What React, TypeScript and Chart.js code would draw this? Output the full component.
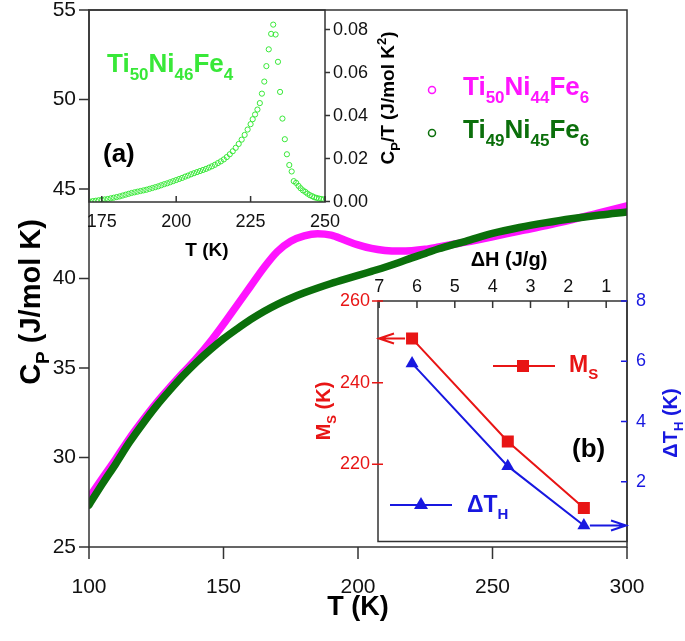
import React, { useEffect, useRef } from 'react';
import { Chart, registerables } from 'chart.js';

Chart.register(...registerables);

const FONT = "'Liberation Sans', Arial, Helvetica, sans-serif";

// ---------- Main panel: C_P vs T ----------
const temperatureK = [100, 105, 110, 115, 120, 125, 130, 135, 140, 145, 150, 155, 160, 165, 170, 175, 180, 185, 190, 195, 200, 205, 210, 215, 220, 225, 230, 235, 240, 250, 260, 270, 280, 290, 300];
const cpTi49Ni45Fe6 = [27.35, 28.53, 29.66, 30.84, 31.89, 32.87, 33.75, 34.58, 35.33, 36.01, 36.63, 37.18, 37.7, 38.16, 38.56, 38.9, 39.2, 39.47, 39.72, 39.95, 40.17, 40.4, 40.63, 40.88, 41.15, 41.4, 41.66, 41.88, 42.08, 42.52, 42.85, 43.12, 43.35, 43.55, 43.72];
const cpTi50Ni44Fe6 = [27.75, 28.85, 29.93, 31.06, 32.08, 33.04, 33.91, 34.74, 35.55, 36.45, 37.45, 38.5, 39.55, 40.6, 41.5, 42.08, 42.38, 42.5, 42.42, 42.15, 41.88, 41.68, 41.57, 41.53, 41.55, 41.63, 41.76, 41.9, 42.03, 42.33, 42.65, 42.95, 43.3, 43.68, 44.05];
const mainTTicks = [100, 150, 200, 250, 300];
const mainCpTicks = [25, 30, 35, 40, 45, 50, 55];

// ---------- Inset (a): C_P/T vs T for Ti50Ni46Fe4 ----------
const insetT = [171, 172, 173, 174, 175, 176, 177, 178, 179, 180, 181, 182, 183, 184, 185, 186, 187, 188, 189, 190, 191, 192, 193, 194, 195, 196, 197, 198, 199, 200, 201, 202, 203, 204, 205, 206, 207, 208, 209, 210, 211, 212, 213, 214, 215, 216, 217, 218, 219, 220, 221, 222, 223, 224, 225, 225.7, 226.5, 227.3, 228.1, 228.8, 229.6, 230.3, 231.1, 231.9, 232.6, 233.4, 234.2, 234.9, 235.7, 236.5, 237.2, 238.0, 238.8, 239.5, 240.3, 241.1, 241.8, 242.6, 243.4, 244.1, 244.9, 245.7, 246.4, 247.2, 248.0, 248.7, 249.5];
const insetCpOverT = [0.0000, 0.0002, 0.0004, 0.0006, 0.0008, 0.0010, 0.0012, 0.0015, 0.0018, 0.0021, 0.0024, 0.0028, 0.0032, 0.0036, 0.0040, 0.0043, 0.0046, 0.0049, 0.0052, 0.0055, 0.0059, 0.0063, 0.0067, 0.0071, 0.0076, 0.0081, 0.0085, 0.0090, 0.0095, 0.0100, 0.0105, 0.0110, 0.0116, 0.0121, 0.0127, 0.0132, 0.0137, 0.0142, 0.0147, 0.0152, 0.0158, 0.0164, 0.0171, 0.0179, 0.0187, 0.0196, 0.0207, 0.0220, 0.0234, 0.0250, 0.0268, 0.0288, 0.0310, 0.0335, 0.0360, 0.0383, 0.0405, 0.0428, 0.0458, 0.0502, 0.0558, 0.0630, 0.0708, 0.0780, 0.0823, 0.0777, 0.0650, 0.0510, 0.0386, 0.0290, 0.0220, 0.0170, 0.0140, 0.0095, 0.0087, 0.0073, 0.0062, 0.0052, 0.0045, 0.0037, 0.0030, 0.0025, 0.0020, 0.0017, 0.0014, 0.0012, 0.0010];
const insetTTicks = [175, 200, 225, 250];
const insetCpTTicks = [0, 0.02, 0.04, 0.06, 0.08];

// ---------- Inset (b): Ms and ΔT_H vs ΔH ----------
const deltaH = [6.13, 3.6, 1.59];
const msK = [250.8, 225.6, 209.3];
const deltaTH = [5.93, 2.52, 0.55];
const deltaHTicks = [7, 6, 5, 4, 3, 2, 1];
const msTicks = [220, 240, 260];
const deltaTHTicks = [2, 4, 6, 8];

const MAGENTA = '#ff14ff';
const DARK_GREEN = '#0b6f0b';
const LIGHT_GREEN = '#38e838';
const RED = '#e81515';
const BLUE = '#1818e0';
const AXIS = '#333';

type Seg = [string, string?];

function drawRich(ctx: CanvasRenderingContext2D, segs: Seg[], x: number, y: number, size: number, color: string, align: 'left' | 'center' | 'right', weight = 'bold') {
  const sub = Math.round(size * 0.66);
  const font = (k?: string) => `${weight} ${k ? sub : size}px ${FONT}`;
  ctx.save();
  ctx.fillStyle = color;
  ctx.textBaseline = 'alphabetic';
  ctx.textAlign = 'left';
  let w = 0;
  for (const [t, k] of segs) { ctx.font = font(k); w += ctx.measureText(t).width; }
  let cx = align === 'center' ? x - w / 2 : align === 'right' ? x - w : x;
  for (const [t, k] of segs) {
    ctx.font = font(k);
    const dy = k === 'sub' ? size * 0.3 : k === 'sup' ? -size * 0.42 : 0;
    ctx.fillText(t, cx, y + dy);
    cx += ctx.measureText(t).width;
  }
  ctx.restore();
}

function drawRotated(ctx: CanvasRenderingContext2D, segs: Seg[], cx: number, cy: number, size: number, color: string) {
  ctx.save();
  ctx.translate(cx, cy);
  ctx.rotate(-Math.PI / 2);
  drawRich(ctx, segs, 0, size * 0.36, size, color, 'center');
  ctx.restore();
}

function tickMarks(ctx: CanvasRenderingContext2D, scale: any, side: string, inward: number, outward: number, color: string) {
  const ca = scale.chart.chartArea;
  ctx.save();
  ctx.strokeStyle = color;
  ctx.lineWidth = 1.5;
  ctx.beginPath();
  for (const t of scale.ticks) {
    const p = scale.getPixelForValue(t.value);
    if (side === 'left') { ctx.moveTo(ca.left - outward, p); ctx.lineTo(ca.left + inward, p); }
    if (side === 'right') { ctx.moveTo(ca.right + outward, p); ctx.lineTo(ca.right - inward, p); }
    if (side === 'bottom') { ctx.moveTo(p, ca.bottom + outward); ctx.lineTo(p, ca.bottom - inward); }
    if (side === 'top') { ctx.moveTo(p, ca.top - outward); ctx.lineTo(p, ca.top + inward); }
  }
  ctx.stroke();
  ctx.restore();
}

function frame(ctx: CanvasRenderingContext2D, ca: any) {
  ctx.save();
  ctx.strokeStyle = AXIS;
  ctx.lineWidth = 1.5;
  ctx.strokeRect(ca.left, ca.top, ca.right - ca.left, ca.bottom - ca.top);
  ctx.restore();
}

const zeroPad = (s: any) => { s.paddingLeft = 0; s.paddingRight = 0; s.paddingTop = 0; s.paddingBottom = 0; };
const fixH = (h: number) => (s: any) => { s.height = h; zeroPad(s); };
const fixW = (w: number) => (s: any) => { s.width = w; zeroPad(s); };
const setTicks = (arr: number[]) => (s: any) => { s.ticks = arr.map((v) => ({ value: v })); };

const baseOptions = {
  animation: false,
  responsive: false,
  devicePixelRatio: 1,
  events: [] as any[],
  plugins: { legend: { display: false }, tooltip: { enabled: false } },
};

const noGrid = { display: false, drawTicks: false };
const noBorder = { display: false };

function arrow(ctx: CanvasRenderingContext2D, x1: number, y: number, x2: number, color: string) {
  const dir = Math.sign(x2 - x1);
  ctx.save();
  ctx.strokeStyle = color;
  ctx.lineWidth = 2;
  ctx.beginPath();
  ctx.moveTo(x1, y);
  ctx.lineTo(x2, y);
  ctx.moveTo(x2 - dir * 15, y - 5);
  ctx.lineTo(x2, y);
  ctx.lineTo(x2 - dir * 15, y + 5);
  ctx.stroke();
  ctx.restore();
}

export default function App() {
  const mainRef = useRef<HTMLCanvasElement>(null);
  const aRef = useRef<HTMLCanvasElement>(null);
  const bRef = useRef<HTMLCanvasElement>(null);

  useEffect(() => {
    const charts: Chart[] = [];

    // ---------- main ----------
    const mainDecor = {
      id: 'mainDecor',
      afterDraw(chart: any) {
        const ctx = chart.ctx;
        const ca = chart.chartArea;
        frame(ctx, ca);
        tickMarks(ctx, chart.scales.x, 'bottom', 0, 12, AXIS);
        tickMarks(ctx, chart.scales.y, 'left', 0, 10, AXIS);
        drawRich(ctx, [['T (K)']], (ca.left + ca.right) / 2, 615, 27, '#000', 'center');
        drawRotated(ctx, [['C'], ['P', 'sub'], [' (J/mol K)']], 30, 302, 29, '#000');
        // legend
        const items: [string, Seg[], number][] = [
          [MAGENTA, [['Ti'], ['50', 'sub'], ['Ni'], ['44', 'sub'], ['Fe'], ['6', 'sub']], 95],
          [DARK_GREEN, [['Ti'], ['49', 'sub'], ['Ni'], ['45', 'sub'], ['Fe'], ['6', 'sub']], 138],
        ];
        for (const [c, segs, by] of items) {
          ctx.save();
          ctx.strokeStyle = c;
          ctx.lineWidth = 1.5;
          ctx.beginPath();
          ctx.arc(432, by - 5, 3.5, 0, Math.PI * 2);
          ctx.stroke();
          ctx.restore();
          drawRich(ctx, segs, 463, by, 26, c, 'left');
        }
      },
    };

    charts.push(new Chart(mainRef.current as HTMLCanvasElement, {
      type: 'line',
      data: {
        datasets: [
          {
            label: 'Ti49Ni45Fe6',
            data: temperatureK.map((t, i) => ({ x: t, y: cpTi49Ni45Fe6[i] })),
            borderColor: DARK_GREEN, borderWidth: 7.5, pointRadius: 0,
            cubicInterpolationMode: 'monotone', borderCapStyle: 'round', borderJoinStyle: 'round',
          },
          {
            label: 'Ti50Ni44Fe6',
            data: temperatureK.map((t, i) => ({ x: t, y: cpTi50Ni44Fe6[i] })),
            borderColor: MAGENTA, borderWidth: 7.5, pointRadius: 0,
            cubicInterpolationMode: 'monotone', borderCapStyle: 'round', borderJoinStyle: 'round',
          },
        ],
      },
      options: {
        ...baseOptions,
        layout: { padding: { left: 0, top: 10, right: 58, bottom: 0 } },
        scales: {
          x: {
            type: 'linear', min: 100, max: 300,
            afterBuildTicks: setTicks(mainTTicks),
            grid: noGrid, border: noBorder,
            ticks: { autoSkip: false, maxRotation: 0, padding: 28, color: '#111', font: { size: 21, family: FONT }, callback: (v: any) => String(v) },
            afterFit: fixH(94),
          },
          y: {
            type: 'linear', min: 25, max: 55,
            afterBuildTicks: setTicks(mainCpTicks),
            grid: noGrid, border: noBorder,
            ticks: { autoSkip: false, padding: 13, color: '#111', font: { size: 21, family: FONT }, callback: (v: any) => String(v) },
            afterFit: fixW(89),
          },
        },
      } as any,
      plugins: [mainDecor],
    } as any));

    // ---------- inset (a) ----------
    const aDecor = {
      id: 'aDecor',
      afterDraw(chart: any) {
        const ctx = chart.ctx;
        const ca = chart.chartArea;
        frame(ctx, ca);
        tickMarks(ctx, chart.scales.x, 'bottom', 6, 0, AXIS);
        tickMarks(ctx, chart.scales.y, 'right', 0, 5, AXIS);
        drawRich(ctx, [['T (K)']], (ca.left + ca.right) / 2, 256, 19, '#000', 'center');
        drawRotated(ctx, [['C'], ['P', 'sub'], ['/T (J/mol K'], ['2', 'sup'], [')']], 327, 98, 19, '#000');
        drawRich(ctx, [['Ti'], ['50', 'sub'], ['Ni'], ['46', 'sub'], ['Fe'], ['4', 'sub']], 47, 72, 26, LIGHT_GREEN, 'left');
        drawRich(ctx, [['(a)']], 43, 162, 26, '#000', 'left');
      },
    };

    charts.push(new Chart(aRef.current as HTMLCanvasElement, {
      type: 'line',
      data: {
        datasets: [
          {
            label: 'Ti50Ni46Fe4',
            data: insetT.map((t, i) => ({ x: t, y: insetCpOverT[i] })),
            showLine: false,
            pointRadius: 2.6, pointBorderWidth: 1,
            pointBorderColor: LIGHT_GREEN, pointBackgroundColor: 'rgba(255,255,255,0)',
          },
        ],
      },
      options: {
        ...baseOptions,
        layout: { padding: { left: 29, top: 10, right: 0, bottom: 0 } },
        scales: {
          x: {
            type: 'linear', min: 170.7, max: 250,
            afterBuildTicks: setTicks(insetTTicks),
            grid: noGrid, border: noBorder,
            ticks: { autoSkip: false, maxRotation: 0, padding: 9, color: '#111', font: { size: 18, family: FONT }, callback: (v: any) => String(v) },
            afterFit: fixH(60),
          },
          y: {
            type: 'linear', position: 'right', min: -0.0002, max: 0.0891,
            afterBuildTicks: setTicks(insetCpTTicks),
            grid: noGrid, border: noBorder,
            ticks: { autoSkip: false, padding: 8, color: '#111', font: { size: 18, family: FONT }, callback: (v: any) => Number(v).toFixed(2) },
            afterFit: fixW(95),
          },
        },
      } as any,
      plugins: [aDecor],
    } as any));

    // ---------- inset (b) ----------
    const bDecor = {
      id: 'bDecor',
      afterDraw(chart: any) {
        const ctx = chart.ctx;
        const ca = chart.chartArea;
        const xs = chart.scales.x;
        const ym = chart.scales.yMs;
        const yt = chart.scales.yT;
        frame(ctx, ca);
        tickMarks(ctx, xs, 'top', 7, 0, AXIS);
        tickMarks(ctx, ym, 'left', 5, 6, RED);
        tickMarks(ctx, yt, 'right', 6, 0, BLUE);
        // arrows to the axes
        arrow(ctx, xs.getPixelForValue(deltaH[0]) - 7, ym.getPixelForValue(msK[0]), ca.left + 1, RED);
        arrow(ctx, xs.getPixelForValue(deltaH[2]) + 6, yt.getPixelForValue(deltaTH[2]), ca.right - 1, BLUE);
        // titles
        drawRich(ctx, [['ΔH (J/g)']], 204, 18, 20, '#000', 'center');
        drawRotated(ctx, [['M'], ['S', 'sub'], [' (K)']], 18, 163, 20, RED);
        drawRotated(ctx, [['ΔT'], ['H', 'sub'], [' (K)']], 365, 175, 20, BLUE);
        // legend
        ctx.save();
        ctx.lineWidth = 2;
        ctx.strokeStyle = RED;
        ctx.beginPath(); ctx.moveTo(188, 118); ctx.lineTo(250, 118); ctx.stroke();
        ctx.fillStyle = RED;
        ctx.fillRect(212, 112, 12, 12);
        ctx.strokeStyle = BLUE;
        ctx.beginPath(); ctx.moveTo(85, 257); ctx.lineTo(147, 257); ctx.stroke();
        ctx.fillStyle = BLUE;
        ctx.beginPath(); ctx.moveTo(116, 249); ctx.lineTo(123, 261); ctx.lineTo(109, 261); ctx.closePath(); ctx.fill();
        ctx.restore();
        drawRich(ctx, [['M'], ['S', 'sub']], 264, 124, 23, RED, 'left');
        drawRich(ctx, [['ΔT'], ['H', 'sub']], 162, 264, 23, BLUE, 'left');
        drawRich(ctx, [['(b)']], 267, 209, 26, '#000', 'left');
      },
    };

    charts.push(new Chart(bRef.current as HTMLCanvasElement, {
      type: 'line',
      data: {
        datasets: [
          {
            label: 'Ms',
            data: deltaH.map((h, i) => ({ x: h, y: msK[i] })),
            xAxisID: 'x', yAxisID: 'yMs',
            borderColor: RED, borderWidth: 2,
            pointStyle: 'rect', pointRadius: 8.5, pointBorderWidth: 0,
            pointBackgroundColor: RED, pointBorderColor: RED,
          },
          {
            label: 'dTH',
            data: deltaH.map((h, i) => ({ x: h, y: deltaTH[i] })),
            xAxisID: 'x', yAxisID: 'yT',
            borderColor: BLUE, borderWidth: 2,
            pointStyle: 'triangle', pointRadius: 7.5, pointBorderWidth: 0,
            pointBackgroundColor: BLUE, pointBorderColor: BLUE,
          },
        ],
      },
      options: {
        ...baseOptions,
        layout: { padding: { left: 0, top: 0, right: 0, bottom: 3 } },
        scales: {
          x: {
            type: 'linear', position: 'top', reverse: true, min: 0.45, max: 7.03,
            afterBuildTicks: setTicks(deltaHTicks),
            grid: noGrid, border: noBorder,
            ticks: { autoSkip: false, maxRotation: 0, padding: 3, color: '#111', font: { size: 18, family: FONT }, callback: (v: any) => String(v) },
            afterFit: fixH(53),
          },
          yMs: {
            type: 'linear', position: 'left', min: 201.1, max: 260,
            afterBuildTicks: setTicks(msTicks),
            grid: noGrid, border: noBorder,
            ticks: { autoSkip: false, padding: 8, color: RED, font: { size: 18, family: FONT }, callback: (v: any) => String(v) },
            afterFit: fixW(73),
          },
          yT: {
            type: 'linear', position: 'right', min: 0.02, max: 8,
            afterBuildTicks: setTicks(deltaTHTicks),
            grid: noGrid, border: noBorder,
            ticks: { autoSkip: false, padding: 9, color: BLUE, font: { size: 18, family: FONT }, callback: (v: any) => String(v) },
            afterFit: fixW(58),
          },
        },
      } as any,
      plugins: [bDecor],
    } as any));

    return () => { charts.forEach((c) => c.destroy()); };
  }, []);

  return (
    <div style={{ position: 'absolute', left: 0, top: 0, width: 685, height: 641, background: '#fff', overflow: 'hidden' }}>
      <canvas ref={mainRef} width={685} height={641} style={{ position: 'absolute', left: 0, top: 0 }} />
      <canvas ref={aRef} width={360} height={262} style={{ position: 'absolute', left: 60, top: 0 }} />
      <canvas ref={bRef} width={380} height={302} style={{ position: 'absolute', left: 305, top: 248 }} />
    </div>
  );
}
